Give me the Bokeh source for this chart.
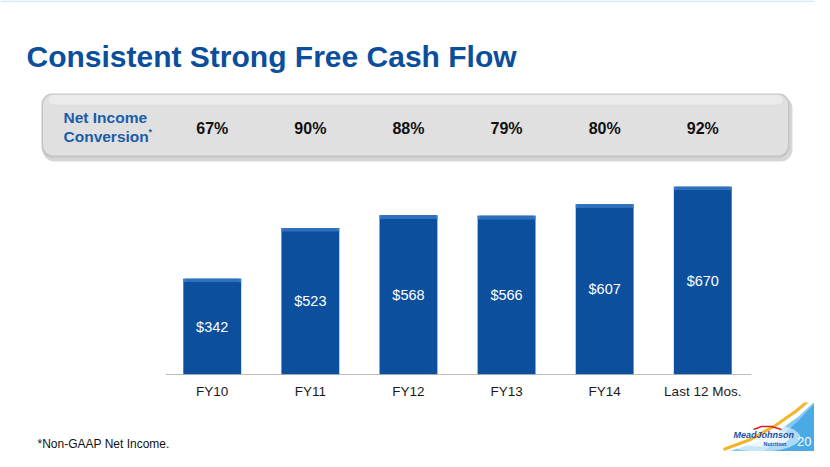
from bokeh.plotting import figure
from bokeh.models import Range1d, FixedTicker, ColumnDataSource
from bokeh.layouts import column
from bokeh.core.properties import value
from bokeh.embed import file_html
from bokeh.resources import INLINE

# ---- data ----
categories = ["FY10", "FY11", "FY12", "FY13", "FY14", "Last 12 Mos."]
fcf = [342, 523, 568, 566, 607, 670]
conversion = [67, 90, 88, 79, 80, 92]

title_text = "Consistent Strong Free Cash Flow"
row_label_1 = "Net Income"
row_label_2 = "Conversion"
footnote = "*Non-GAAP Net Income."
page_number = "20"

FONT = value("Liberation Sans")
idx = list(range(len(categories)))

src = ColumnDataSource(dict(
    x=idx,
    top=fcf,
    bevel_bottom=[v - 12 for v in fcf],
    mid=[v / 2 for v in fcf],
    lab=[f"${v}" for v in fcf],
    pct=[f"{c}%" for c in conversion],
))

W = 814
H1 = 402
H2 = 451 - H1

# ---- main figure ----
p = figure(width=W, height=H1,
           x_range=Range1d(-2.1585, 6.139), y_range=Range1d(0, 1334.3),
           output_backend="svg", toolbar_location=None,
           y_axis_location=None,
           min_border_left=0, min_border_right=0, min_border_top=0, min_border_bottom=H1 - 374)
p.extra_x_ranges = {"px": Range1d(0, W)}
p.extra_y_ranges = {"px": Range1d(374, 0)}
p.outline_line_color = None
p.xgrid.visible = False
p.ygrid.visible = False
p.background_fill_color = "white"
p.border_fill_color = "white"

ax = p.xaxis[0]
ax.ticker = FixedTicker(ticks=idx)
ax.major_label_overrides = {i: c for i, c in zip(idx, categories)}
ax.axis_line_color = None
ax.major_tick_line_color = None
ax.minor_tick_line_color = None
ax.major_tick_out = 0
ax.major_label_standoff = 9
ax.major_label_text_font = "Liberation Sans"
ax.major_label_text_font_size = "13.5px"
ax.major_label_text_color = "#1a1a1a"

# slide border (light cyan, top edge)
p.segment(x0=[0], y0=[0.8], x1=[W], y1=[0.8],
          x_range_name="px", y_range_name="px", line_color="#c9edfb", line_width=1.6)

# title
p.text(x=[26], y=[56], text=[title_text], x_range_name="px", y_range_name="px",
       text_font=FONT, text_font_style="bold", text_font_size=value("30px"),
       text_color="#0b4f9c", text_baseline="alphabetic", text_align="left")

# conversion box
p.quad(left=[42], right=[792], top=[96], bottom=[161], x_range_name="px", y_range_name="px",
       fill_color="#8a8a8a", fill_alpha=0.35, line_color=None, border_radius=12)
p.quad(left=[41], right=[789], top=[93], bottom=[157], x_range_name="px", y_range_name="px",
       fill_color="#c4c4c4", line_color=None, border_radius=11)
p.quad(left=[42.5], right=[787.5], top=[94], bottom=[155], x_range_name="px", y_range_name="px",
       fill_color="#e0e0e0", line_color=None, border_radius=10)
p.quad(left=[48], right=[782], top=[94.5], bottom=[104], x_range_name="px", y_range_name="px",
       fill_color="#ebebeb", line_color=None, border_radius=5)

p.text(x=[63, 63], y=[117, 136], text=[row_label_1, row_label_2],
       x_range_name="px", y_range_name="px",
       text_font=FONT, text_font_style="bold", text_font_size=value("15.5px"),
       text_color="#1b5cab", text_baseline="middle", text_align="left")
p.text(x=[148], y=[131], text=["*"], x_range_name="px", y_range_name="px",
       text_font=FONT, text_font_style="bold", text_font_size=value("9px"),
       text_color="#1b5cab", text_baseline="middle", text_align="left")
p.text(x="x", y=128, text="pct", source=src, y_range_name="px",
       text_font=FONT, text_font_style="bold", text_font_size=value("16px"),
       text_color="#111111", text_baseline="middle", text_align="center")

# bars
p.vbar(x="x", top="top", bottom=0, width=0.59, source=src,
       fill_color="#0b4f9d", line_color=None)
p.vbar(x="x", top="top", bottom="bevel_bottom", width=0.59, source=src,
       fill_color="#3d7dc9", line_color=None)
p.vbar(x="x", top="top", bottom="bevel_bottom", width=0.55, source=src,
       fill_color="#2f6fbd", line_color=None)
p.text(x="x", y="mid", text="lab", source=src,
       text_font=FONT, text_font_size=value("14.5px"), text_color="white",
       text_baseline="middle", text_align="center")

# baseline
p.segment(x0=[-0.475], x1=[5.495], y0=[0], y1=[0], line_color="#7f7f7f", line_width=1)

# ---- bottom strip ----
q = figure(width=W, height=H2, x_range=Range1d(0, W), y_range=Range1d(451, H1),
           output_backend="svg", toolbar_location=None,
           x_axis_location=None, y_axis_location=None,
           min_border=0)
q.outline_line_color = None
q.xgrid.visible = False
q.ygrid.visible = False

q.text(x=[37], y=[443], text=[footnote], text_font=FONT, text_font_size=value("12px"),
       text_color="#111111", text_baseline="middle", text_align="left")

# swoosh
q.patch(x=[685, 725, 755, 780, 798, 812, 825, 825],
        y=[462, 452, 442, 429, 416, 403, 394, 462],
        fill_color="#86c9f0", line_color=None)
q.patch(x=[750, 780, 798, 812, 825, 825, 780],
        y=[462, 437, 420, 405, 394, 462, 462],
        fill_color="#3ea5e4", fill_alpha=0.85, line_color=None)
q.ellipse(x=[760], y=[437], width=80, height=28, fill_color="white", fill_alpha=0.55, line_color=None)
q.ellipse(x=[760], y=[437], width=58, height=18, fill_color="white", fill_alpha=0.7, line_color=None)
q.line(x=[723, 750, 775, 795, 812, 825], y=[449, 439, 425, 411, 397, 389],
       line_color="#f5b52a", line_width=3)

# logo
q.text(x=[733], y=[434], text=["MeadJohnson"], text_font=FONT, text_font_style="bold italic",
       text_font_size=value("9px"), text_color="#1d4f9f", text_baseline="middle", text_align="left")
q.line(x=[753, 761, 771, 781], y=[429, 426, 426, 429], line_color="#d2232a", line_width=1.5)
q.text(x=[763], y=[443], text=["Nutrition"], text_font=FONT, text_font_style="bold",
       text_font_size=value("5.5px"), text_color="#1d4f9f", text_baseline="middle", text_align="left")
q.text(x=[811], y=[441], text=[page_number], text_font=FONT, text_font_size=value("13px"),
       text_color="white", text_baseline="middle", text_align="right")

layout = column(p, q, spacing=0)
open("out.html", "w").write(file_html(layout, INLINE))
